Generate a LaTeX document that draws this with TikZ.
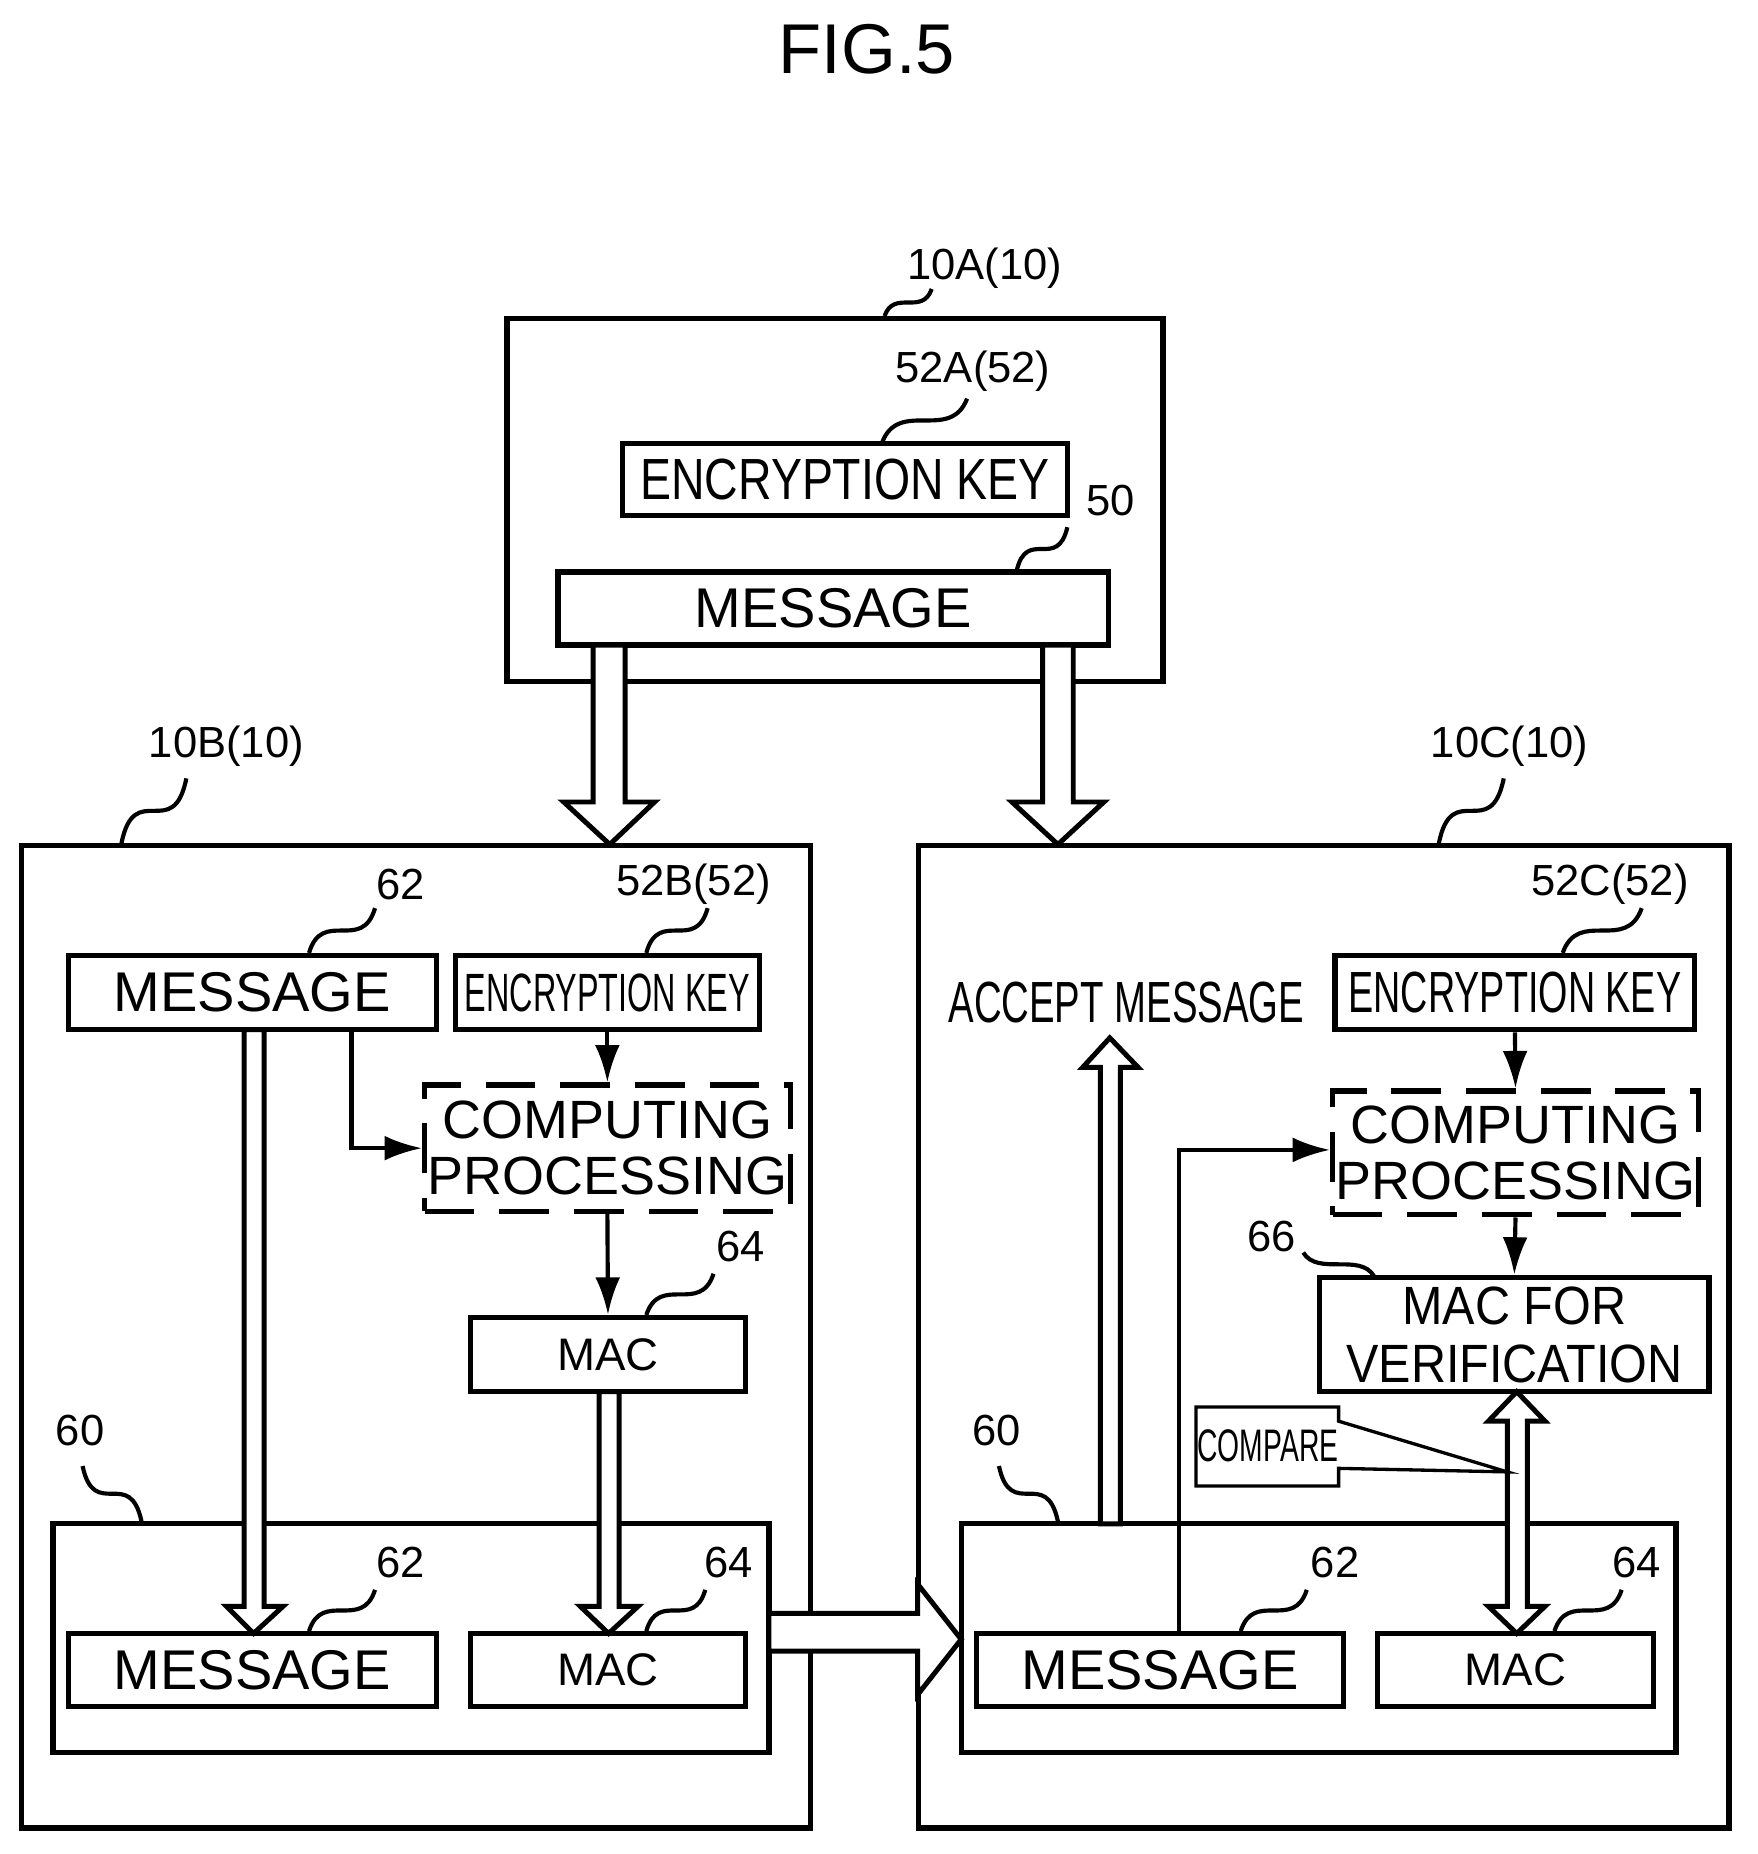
\documentclass[tikz,border=0pt]{standalone}
\usepackage{fontspec}
\usetikzlibrary{arrows.meta}
\setmainfont{Liberation Sans}
\begin{document}
\begin{tikzpicture}[x=0.01cm,y=-0.01cm,line width=1.3pt,
  box/.style={draw,inner sep=0pt,align=center},
  lbl/.style={font=\fontsize{10.5}{12}\selectfont},
  big/.style={font=\fontsize{13.5}{15}\selectfont},
  cp/.style={dashed,dash pattern=on 12pt off 6pt,font=\fontsize{13}{13.5}\selectfont},
  hol/.style={draw,fill=white,line width=1.2pt,line join=miter},
  sq/.style={line width=1pt},
  arr/.style={-{Latex[length=9pt,width=6pt]},line width=1pt}]
\useasboundingbox (0,0) rectangle (1490,1572);
\newcommand\bx[7][]{\node[box,#1,minimum width={(#5-#3)*0.01cm},minimum height={(#6-#4)*0.01cm}] (#2) at ({(#3+#5)/2},{(#4+#6)/2}) {#7};}
\newcommand\sqg[4]{\draw[sq] (#1,#2) .. controls ({#1+(#3-#1)*0.2},{#2+(#4-#2)*1.0}) and ({#1+(#3-#1)*0.8},{#2+(#4-#2)*0.0}) .. (#3,#4);}
\node[font=\fontsize{17}{20}\selectfont] (title) at (735,42) {FIG.5};
% 10A
\bx{A}{430}{270}{986}{578}{}
\node[lbl] (lA) at (835,227) {10A(10)}; \sqg{750}{268}{790}{245}
\bx[font=\fontsize{14}{16}\selectfont]{Akey}{528}{376}{905}{437}{\scalebox{0.8}[1]{ENCRYPTION KEY}}
\node[lbl] (lAk) at (825,315) {52A(52)}; \sqg{748}{375}{820}{338}
\bx[big]{Amsg}{473}{485}{940}{547}{MESSAGE}
\node[lbl] (l50) at (942,424) {50}; \sqg{862}{484}{905}{447}
% 10B
\bx{B}{18}{717}{687}{1550}{}
\node[lbl] (lB) at (192,633) {10B(10)}; \sqg{103}{715}{158}{660}
\bx[big]{Bmsg}{58}{810}{370}{873}{MESSAGE}
\node[lbl] (l62a) at (340,750) {62}; \sqg{262}{808}{318}{770}
\bx[font=\fontsize{13}{14}\selectfont]{Bkey}{386}{810}{644}{873}{\scalebox{0.6}[1]{ENCRYPTION KEY}}
\node[lbl] (lBk) at (588,750) {52B(52)}; \sqg{548}{808}{600}{770}
\bx[cp]{Bcp}{360}{920}{670}{1027}{COMPUTING\\PROCESSING}
\draw[arr] (Bkey.south) -- (Bcp.north);
\draw[arr] (298,873) |- (Bcp.west);
\bx[font=\fontsize{11}{12}\selectfont]{Bmac}{399}{1117}{632}{1180}{MAC}
\node[lbl] (l64a) at (628,1057) {64}; \sqg{548}{1115}{605}{1080}
\draw[arr] (Bcp.south) -- (Bmac.north);
\bx{B60}{45}{1292}{652}{1486}{}
\node[lbl] (l60a) at (68,1213) {60}; \sqg{120}{1290}{70}{1243}
\bx[big]{Bmsg2}{58}{1385}{370}{1447}{MESSAGE}
\node[lbl] (l62b) at (340,1325) {62}; \sqg{262}{1383}{318}{1348}
\bx[font=\fontsize{11}{12}\selectfont]{Bmac2}{399}{1385}{632}{1447}{MAC}
\node[lbl] (l64b) at (618,1325) {64}; \sqg{548}{1383}{598}{1348}
% 10C
\bx{C}{779}{717}{1466}{1550}{}
\node[lbl] (lC) at (1280,633) {10C(10)}; \sqg{1220}{715}{1275}{660}
\node[font=\fontsize{14}{16}\selectfont,inner sep=0pt] (acc) at (955,850) {\scalebox{0.66}[1]{ACCEPT MESSAGE}};
\bx[font=\fontsize{14}{16}\selectfont]{Ckey}{1132}{810}{1437}{873}{\scalebox{0.65}[1]{ENCRYPTION KEY}}
\node[lbl] (lCk) at (1365,750) {52C(52)}; \sqg{1325}{808}{1392}{770}
\bx[cp]{Ccp}{1130}{925}{1440}{1030}{COMPUTING\\PROCESSING}
\draw[arr] (Ckey.south) -- (Ccp.north);
\bx[font=\fontsize{13}{14}\selectfont]{Cver}{1119}{1083}{1449}{1180}{\scalebox{0.9}[1]{MAC FOR}\\\scalebox{0.9}[1]{VERIFICATION}}
\node[lbl] (l66) at (1078,1048) {66}; \sqg{1165}{1082}{1105}{1062}
\draw[arr] (Ccp.south) -- (Cver.north);
\bx{C60}{815}{1292}{1421}{1486}{}
\node[lbl] (l60b) at (845,1213) {60}; \sqg{897}{1290}{847}{1243}
\bx[big]{Cmsg}{828}{1385}{1139}{1447}{MESSAGE}
\node[lbl] (l62c) at (1132,1325) {62}; \sqg{1052}{1383}{1108}{1348}
\bx[font=\fontsize{11}{12}\selectfont]{Cmac}{1168}{1385}{1402}{1447}{MAC}
\node[lbl] (l64c) at (1388,1325) {64}; \sqg{1318}{1383}{1375}{1348}
\draw[arr] (1000,1385) |- (Ccp.west |- 0,975);
% hollow arrows
\draw[hol] (503,547)--(530,547)--(530,680)--(555,680)--(517,716)--(478,680)--(503,680)--cycle;
\draw[hol] (884,547)--(910,547)--(910,680)--(936,680)--(897,716)--(858,680)--(884,680)--cycle;
\draw[hol] (207,873)--(224,873)--(224,1362)--(240,1362)--(215,1385)--(192,1362)--(207,1362)--cycle;
\draw[hol] (508,1180)--(525,1180)--(525,1362)--(541,1362)--(516,1385)--(492,1362)--(508,1362)--cycle;
\draw[hol] (652,1368)--(778,1368)--(778,1343)--(815,1390)--(778,1437)--(778,1400)--(652,1400)--cycle;
\draw[hol] (933,1292)--(933,905)--(918,905)--(941,880)--(965,905)--(950,905)--(950,1292)--cycle;
\draw[hol] (1278,1362)--(1278,1205)--(1262,1205)--(1286,1180)--(1310,1205)--(1295,1205)--(1295,1362)--(1310,1362)--(1286,1385)--(1262,1362)--cycle;
% compare callout
\draw[line width=0.8pt,fill=white] (1014,1193)--(1135,1193)--(1135,1205)--(1278,1248)--(1135,1245)--(1135,1260)--(1014,1260)--cycle;
\node[font=\fontsize{11}{12}\selectfont,inner sep=0pt] (cmp) at (1075,1226) {\scalebox{0.62}[1]{COMPARE}};
\end{tikzpicture}
\end{document}
